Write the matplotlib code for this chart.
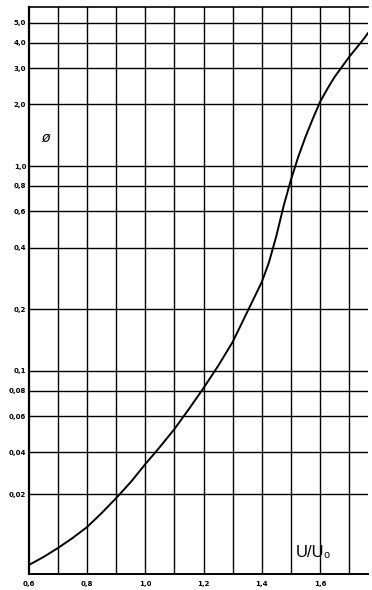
import numpy as np
import matplotlib
matplotlib.use("Agg")
import matplotlib.pyplot as plt

# кривая ø(U/U0), точки
u_ratio = [0.6, 0.65, 0.7, 0.75, 0.8, 0.85, 0.9, 0.95, 1.0, 1.05, 1.1, 1.15,
           1.2, 1.25, 1.3, 1.35, 1.375, 1.4, 1.425, 1.45, 1.475, 1.5, 1.525,
           1.55, 1.575, 1.6, 1.625, 1.65, 1.7, 1.75, 1.765]
phi = [0.00612, 0.00699, 0.00813, 0.0096, 0.01154, 0.01458, 0.01872, 0.02445,
       0.033, 0.0426, 0.0521, 0.0653, 0.0826, 0.1058, 0.1385, 0.194, 0.2296,
       0.2717, 0.340, 0.4555, 0.638, 0.855, 1.106, 1.385, 1.696, 2.052,
       2.375, 2.717, 3.402, 4.164, 4.456]

x_ticks = [0.6, 0.8, 1.0, 1.2, 1.4, 1.6]
x_labels = ['0,6', '0,8', '1,0', '1,2', '1,4', '1,6']
x_grid = [0.7, 0.8, 0.9, 1.0, 1.1, 1.2, 1.3, 1.4, 1.5, 1.6, 1.7]
y_ticks = [5.0, 4.0, 3.0, 2.0, 1.0, 0.8, 0.6, 0.4, 0.2, 0.1, 0.08, 0.06, 0.04, 0.02]
y_labels = ['5,0', '4,0', '3,0', '2,0', '1,0', '0,8', '0,6', '0,4', '0,2',
            '0,1', '0,08', '0,06', '0,04', '0,02']

# на исходном графике ниже 0,04 логарифмическая шкала сжата
L0 = np.log10(0.04)
k = 0.673


def fwd(v):
    L = np.log10(np.clip(v, 1e-12, None))
    return np.where(L < L0, L0 + k * (L - L0), L)


def inv(f):
    f = np.asarray(f, dtype=float)
    return np.where(f < L0, 10 ** (L0 + (f - L0) / k), 10 ** f)


fig = plt.figure(figsize=(3.72, 5.90), dpi=100)
ax = fig.add_axes([29 / 372, 1 - 574 / 590, (368 - 29) / 372, (574 - 7) / 590])
ax.set_yscale('function', functions=(fwd, inv))

for xv in x_grid:
    ax.axvline(xv, color='black', lw=1.0, zorder=1)
for yv in y_ticks:
    ax.axhline(yv, color='black', lw=1.0, zorder=1)

ax.plot(u_ratio, phi, color='black', lw=1.4, zorder=3)

ax.set_xlim(0.6, 1.765)
ax.set_ylim(0.00526, 5.97)
ax.set_xticks(x_ticks)
ax.set_xticklabels(x_labels, fontsize=5, fontweight='bold')
ax.set_yticks(y_ticks)
ax.set_yticklabels(y_labels, fontsize=5, fontweight='bold')
ax.minorticks_off()
ax.tick_params(length=0, pad=2)
ax.tick_params(axis='x', pad=5)

ax.spines['right'].set_visible(False)
ax.spines['left'].set_linewidth(1.6)
ax.spines['bottom'].set_linewidth(1.4)
ax.spines['top'].set_linewidth(1.2)

ax.text(0.6 + 16 / 290.9, 1.38, 'ø', fontsize=10, style='italic', ha='center', va='center')
ax.text(1.6 - 24 / 290.9, 0.00748, 'U/U₀', fontsize=12, family='Liberation Sans',
        ha='left', va='center')

fig.savefig('out.png', dpi=100)
